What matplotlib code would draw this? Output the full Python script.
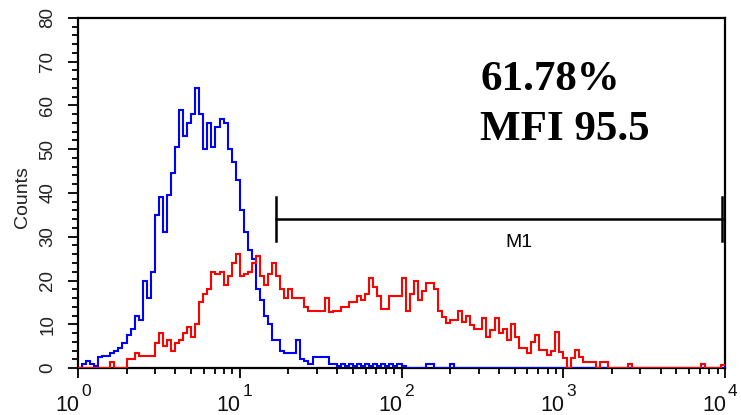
import numpy as np
import matplotlib
matplotlib.use("Agg")
import matplotlib.pyplot as plt
from matplotlib.ticker import FixedLocator, LogLocator, MultipleLocator, NullFormatter
from matplotlib.transforms import ScaledTranslation, blended_transform_factory

plt.rcParams['font.family'] = ['Liberation Sans', 'DejaVu Sans']

# 160 log-spaced channels spanning 10^0 .. 10^4
n_channels = 160
decades = 4

blue_counts = [
    0, 1, 1.5, 1, 0.5, 2.5, 2.7, 2.7, 3.4, 4,
    4.5, 5.7, 7.5, 9, 12, 11, 20, 16, 22, 35,
    39, 31, 39.5, 44.5, 50.5, 59, 53, 56, 58, 64,
    58, 50, 56, 50.5, 55, 57, 56, 50, 47, 43,
    36, 31, 27, 25, 18, 15.5, 12, 10, 6.4, 6.4,
    4, 3.4, 3.4, 3.4, 6.4, 2, 1.5, 1, 2.5, 2.5,
    2.5, 2.5, 1, 1, 0.5, 1, 0.5, 1, 0.5, 1,
    0.5, 1, 0.5, 1, 0.5, 1, 0.5, 1, 0.5, 1,
    0.5, 0, 0, 0, 0, 0, 1, 1, 0, 0,
    0, 0, 1, 0, 0, 0, 0, 0, 0, 0,
    0, 0, 0, 0, 0, 0, 0, 0, 0, 0,
    0, 0, 0, 0, 0, 0, 0, 0, 0, 0,
    0, 0, 0, 0, 0, 0, 0, 0, 0, 0,
    0, 0, 0, 0, 0, 0, 0, 0, 0, 0,
    0, 0, 0, 0, 0, 0, 0, 0, 0, 0,
    0, 0, 0, 0, 0, 0, 0, 0, 0, 0,
]

red_counts = [
    0, 0, 0, 0, 0, 0, 0, 0, 1.3, 0,
    0, 0, 2, 2, 3.4, 2.7, 2.7, 2.7, 2.7, 5.7,
    8, 5, 6.4, 4, 5.7, 6.4, 8, 9.4, 7, 10,
    15, 17, 18, 22, 21.5, 22, 19, 21, 24, 26,
    21, 21.5, 22, 24, 25.5, 21, 19, 21.5, 24, 21,
    18, 16, 18, 16, 16, 16, 14, 13, 13, 13,
    13, 16, 12.8, 13, 13, 14, 14, 15, 15, 16.5,
    15.5, 17, 20.5, 18.5, 16.5, 13.5, 13.5, 16.5, 16.5, 16.5,
    20.5, 13, 17, 20, 15.5, 17.5, 19.5, 19.5, 18, 13,
    11.7, 10.3, 11, 11, 13, 10.5, 12, 9.8, 9, 9,
    11.4, 7, 8.7, 11.4, 8, 9, 6.4, 10, 7, 4.5,
    4.5, 3.4, 6, 7.5, 4.2, 4.2, 3, 4, 8.3, 3.7,
    2.3, 0, 2.3, 4.2, 2.5, 1.4, 1.4, 1.4, 0, 1.4,
    1.4, 0, 0, 0, 0, 0, 1, 0, 0, 0,
    0, 0, 0, 0, 0, 0, 0, 0, 0, 0,
    0, 0, 0, 0, 1, 0, 0, 0, 0, 0.7,
]

y_ticks = [0, 10, 20, 30, 40, 50, 60, 70, 80]
x_tick_values = [1, 10, 100, 1000, 10000]
x_tick_exponents = ["0", "1", "2", "3", "4"]
marker_start, marker_end = 16.8, 9550
marker_y = 34
marker_label = "M1"
annotation_lines = ["61.78%", "MFI 95.5"]

edges = 10 ** np.linspace(0, decades, n_channels + 1)

fig = plt.figure(figsize=(7.41, 4.15), dpi=100)
ax = fig.add_axes([78 / 741, 1 - 368 / 415, (725 - 78) / 741, (368 - 18) / 415])

ax.stairs(blue_counts, edges, color='#0000ff', lw=1.5, baseline=None, zorder=3)
ax.stairs(red_counts, edges, color='#ff0000', lw=1.5, baseline=None, zorder=4)

ax.set_xscale('log')
ax.set_xlim(1, 10000)
ax.set_ylim(0, 80)

ax.xaxis.set_major_locator(FixedLocator(x_tick_values))
ax.xaxis.set_minor_locator(LogLocator(base=10, subs=np.arange(2, 10)))
ax.xaxis.set_major_formatter(NullFormatter())
ax.xaxis.set_minor_formatter(NullFormatter())
ax.yaxis.set_major_locator(FixedLocator(y_ticks))
ax.yaxis.set_minor_locator(MultipleLocator(2))

for s in ax.spines.values():
    s.set_linewidth(1.6)
    s.set_color('black')

ax.tick_params(axis='x', which='major', length=7.2, width=1.3)
ax.tick_params(axis='x', which='minor', length=4, width=1.3)
ax.tick_params(axis='y', which='major', length=7.2, width=1.3, labelsize=13.5, pad=14.5)
ax.tick_params(axis='y', which='minor', length=4.3, width=1.3)
for lab in ax.get_yticklabels():
    lab.set_rotation(90)
    lab.set_va('center')
    lab.set_ha('center')
    lab.set_color('#222222')

# x tick labels: "10" left of the tick, exponent raised right of it
trans = blended_transform_factory(ax.transData, ax.transAxes)
for xv, ex in zip(x_tick_values, x_tick_exponents):
    ax.text(xv, 0, "10", transform=trans + ScaledTranslation(1 / 100, -43 / 100, fig.dpi_scale_trans),
            ha='right', va='baseline', fontsize=15.5, color='#111111', clip_on=False)
    ax.text(xv, 0, ex, transform=trans + ScaledTranslation(3 / 100, -28 / 100, fig.dpi_scale_trans),
            ha='left', va='baseline', fontsize=12.5, color='#111111', clip_on=False)

fig.text(23 / 741, 1 - 197 / 415, 'Counts', rotation=90, ha='center', va='center',
         fontsize=14, color='#222222')

# M1 marker
ax.plot([marker_start, marker_end], [marker_y, marker_y], color='black', lw=1.8, zorder=5)
ax.plot([marker_start, marker_start], [marker_y - 5, marker_y + 5], color='black', lw=1.8, zorder=5)
ax.plot([marker_end, marker_end], [marker_y - 5, marker_y + 5], color='black', lw=1.8, zorder=5)
ax.text(530, marker_y - 5.4, marker_label, ha='center', va='center', fontsize=14)

ax.text(480 / 741, 1 - 90 / 415, annotation_lines[0], transform=fig.transFigure,
        family='Liberation Serif', fontweight='bold', fontsize=31, ha='left', va='baseline')
ax.text(480 / 741, 1 - 140 / 415, annotation_lines[1], transform=fig.transFigure,
        family='Liberation Serif', fontweight='bold', fontsize=31, ha='left', va='baseline')

fig.savefig('out.png', dpi=100)
